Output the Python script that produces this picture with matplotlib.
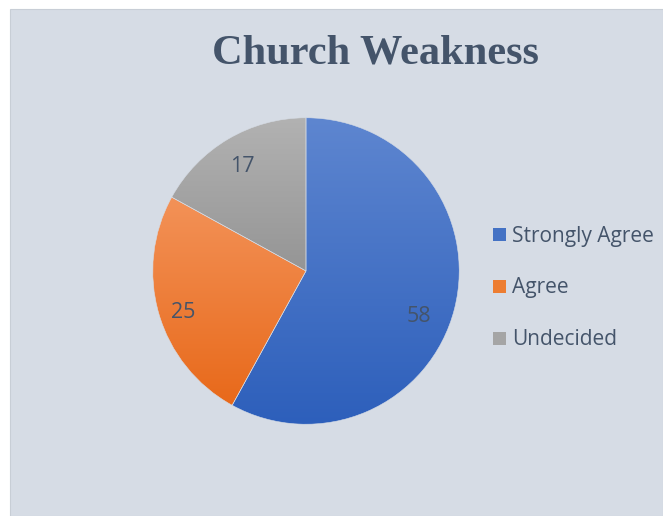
import numpy as np
import matplotlib
matplotlib.use("Agg")
import matplotlib.pyplot as plt
from matplotlib.patches import Rectangle
from matplotlib.colors import LinearSegmentedColormap

categories = ["Strongly Agree", "Agree", "Undecided"]
values = [58, 25, 17]
top_colors = ["#5e86d0", "#f39258", "#b2b2b2"]
bottom_colors = ["#2d5fbb", "#e8691a", "#959595"]
legend_colors = ["#4472c4", "#ed7d31", "#a5a5a5"]
title = "Church Weakness"

# data label placement (fraction of radius, angular nudge in degrees)
label_radius = [0.79, 0.838, 0.81]
label_nudge = [-6.5, 1.4, 0.0]

W, H = 663, 516
fig = plt.figure(figsize=(W / 100, H / 100), dpi=100, facecolor="white")

# chart-area background panel
bg = Rectangle((10 / W, 0), 1 - 10 / W, 1 - 9 / H, transform=fig.transFigure,
               facecolor="#d6dce5", edgecolor="#c8ced6", linewidth=0.8,
               zorder=-5)
fig.patches.append(bg)

text_color = "#44546a"
fig.text(375 / W, 1 - 54 / H, title, ha="center", va="center",
         fontfamily="Liberation Serif", fontweight="bold", fontsize=30.5,
         color=text_color)

cx, cy, r = 306, 271, 154
ax = fig.add_axes([(cx - r) / W, 1 - (cy + r) / H, 2 * r / W, 2 * r / H])
ax.set_zorder(2)
wedges, _ = ax.pie(values, startangle=90, counterclock=False,
                   colors=legend_colors, radius=1.0)
ax.set_aspect("equal")
ax.axis("off")

# vertical gradient fill per slice, clipped to the wedge shape
for w, c0, c1 in zip(wedges, top_colors, bottom_colors):
    path = w.get_path().transformed(w.get_patch_transform())
    verts = path.vertices
    xmin, ymin = verts.min(axis=0)
    xmax, ymax = verts.max(axis=0)
    cmap = LinearSegmentedColormap.from_list("g", [c1, c0])
    grad = np.linspace(0, 1, 256).reshape(-1, 1)
    im = ax.imshow(grad, cmap=cmap, origin="lower", aspect="auto",
                   extent=[xmin, xmax, ymin, ymax], zorder=2)
    im.set_clip_path(w)
    w.set_facecolor("none")
    w.set_edgecolor("#d6dce5")
    w.set_linewidth(0.4)
    w.set_zorder(3)
ax.set_xlim(-1.005, 1.005)
ax.set_ylim(-1.005, 1.005)

# data labels
total = sum(values)
angle = 90.0
for v, lr, nudge in zip(values, label_radius, label_nudge):
    mid = np.deg2rad(angle - 360.0 * v / total / 2 + nudge)
    angle -= 360.0 * v / total
    ax.text(lr * np.cos(mid), lr * np.sin(mid), str(v), ha="center",
            va="center_baseline", fontsize=15.5, color=text_color,
            fontfamily="Open Sans", zorder=4)

# legend
ys = [235, 286, 338]
for name, col, y in zip(categories, legend_colors, ys):
    fig.patches.append(Rectangle((493 / W, 1 - (y + 6.5) / H), 13 / W, 13 / H,
                                 transform=fig.transFigure, facecolor=col,
                                 edgecolor="none", zorder=1))
    fig.text(512 / W, 1 - (y - 1) / H, name, ha="left", va="center_baseline",
             fontsize=15, color=text_color, fontfamily="Open Sans")

fig.savefig("out.png", dpi=100, facecolor="white")
